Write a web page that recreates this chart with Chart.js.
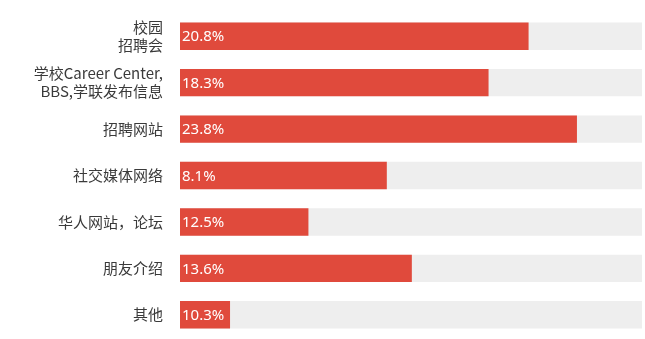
<!DOCTYPE html>
<html>
<head>
<meta charset="utf-8">
<script src="https://cdn.jsdelivr.net/npm/chart.js@4.4.1/dist/chart.umd.min.js"></script>
<style>
  html, body { margin: 0; padding: 0; background: #fff; overflow: hidden; }
  canvas { display: block; }
</style>
</head>
<body>
<canvas id="myChart" width="645" height="339"></canvas>
<script>
(() => {
  'use strict';
  // categories (multi-line ones as arrays)
  const categories = [
    ['校园', '招聘会'],
    ['学校Career Center,', 'BBS,学联发布信息'],
    '招聘网站',
    '社交媒体网络',
    '华人网站，论坛',
    '朋友介绍',
    '其他'
  ];
  // bar lengths as drawn in the picture (in % of the same scale)
  const barValues = [20.9, 18.5, 23.8, 12.4, 7.7, 13.9, 3.0];
  // text printed on each bar
  const valueLabels = ['20.8%', '18.3%', '23.8%', '8.1%', '12.5%', '13.6%', '10.3%'];
  // grey track behind every bar
  const trackMax = 27.7;
  const trackValues = categories.map(() => trackMax);

  const barLabels = {
    id: 'barLabels',
    afterDatasetsDraw(chart) {
      const meta = chart.getDatasetMeta(0);
      const c = chart.ctx;
      c.save();
      c.font = '15px "Noto Sans", sans-serif';
      c.fillStyle = '#ffffff';
      c.textAlign = 'left';
      c.textBaseline = 'middle';
      meta.data.forEach((bar, i) => {
        c.fillText(valueLabels[i], bar.base + 2, bar.y + 1);
      });
      c.restore();
    }
  };

  const ctx = document.getElementById('myChart');
  // eslint-disable-next-line no-unused-vars
  const myChart = new Chart(ctx, {
    type: 'bar',
    data: {
      labels: categories,
      datasets: [{
        data: barValues,
        backgroundColor: '#e04a3c',
        grouped: false,
        order: 0,
        barPercentage: 0.59,
        categoryPercentage: 1
      }, {
        data: trackValues,
        backgroundColor: '#eeeeee',
        grouped: false,
        order: 1,
        barPercentage: 0.59,
        categoryPercentage: 1
      }]
    },
    options: {
      indexAxis: 'y',
      responsive: false,
      animation: false,
      layout: {
        padding: { top: 13, bottom: 1, left: 0, right: 3 }
      },
      scales: {
        x: {
          display: false,
          min: 0,
          max: trackMax
        },
        y: {
          grid: { display: false, drawTicks: false },
          border: { display: false },
          afterFit(scale) {
            scale.width = 180;
            scale.paddingTop = 0;
            scale.paddingBottom = 0;
          },
          ticks: {
            padding: 17,
            color: '#3a3a3a',
            font: { family: '"Noto Sans CJK SC", sans-serif', size: 15, lineHeight: 1.2 }
          }
        }
      },
      plugins: {
        legend: { display: false },
        tooltip: { enabled: false }
      }
    },
    plugins: [barLabels]
  });
})();
</script>
</body>
</html>
